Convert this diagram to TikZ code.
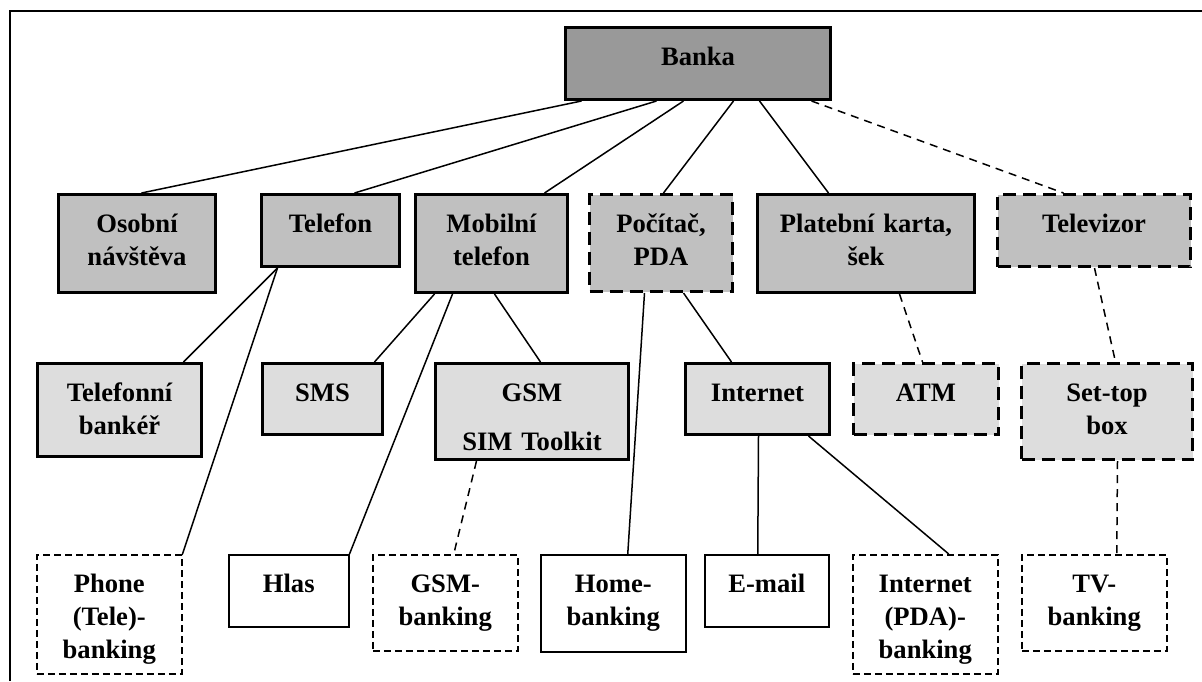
\documentclass[tikz,border=0pt]{standalone}
\usepackage{fontspec}
\setmainfont{Liberation Serif}
\definecolor{fillA}{HTML}{999999}
\definecolor{fillB}{HTML}{C0C0C0}
\definecolor{fillC}{HTML}{DDDDDD}
\begin{document}
\begin{tikzpicture}[x=1pt,y=-1pt,
  bx/.style={draw, anchor=north west, inner sep=0pt, align=center, text height=38pt,
    font=\fontsize{26.6}{33}\selectfont\bfseries},
  sz/.style 2 args={text width=#1pt, text depth=#2pt},
  thickb/.style={bx, line width=3pt},
  thinb/.style={bx, line width=1.5pt, fill=white},
  lvlzero/.style={thickb, fill=fillA},
  lvlone/.style={thickb, fill=fillB},
  lvltwo/.style={thickb, fill=fillC},
  dthick/.style={dash pattern=on 13pt off 7pt},
  dthin/.style={dash pattern=on 7pt off 4pt},
  conn/.style={line width=1.5pt},
  dconn/.style={line width=1.5pt, dash pattern=on 8pt off 6pt}]
\useasboundingbox (0,0) rectangle (1202,681);
\draw[line width=2pt] (10,681) -- (10,11) -- (1202,11);

% level 0
\node[lvlzero, sz={265}{34}] (banka) at (564,26) {Banka};
% level 1
\node[lvlone, sz={157}{60}] (osobni) at (57,193) {Osobní\\návštěva};
\node[lvlone, sz={138}{34}] (telefon) at (260,193) {Telefon};
\node[lvlone, sz={152}{60}] (mobilni) at (414,193) {Mobilní\\telefon};
\node[lvlone, dthick, sz={143}{59}] (pocitac) at (588,193) {Počítač,\\PDA};
\node[lvlone, sz={217}{60}] (platebni) at (756,193) {Platební karta,\\šek};
\node[lvlone, dthick, sz={193}{34}] (televizor) at (996,193) {Televizor};
% level 2
\node[lvltwo, sz={164}{55}] (bankerr) at (36,362) {Telefonní\\bankéř};
\node[lvltwo, sz={120}{33}] (sms) at (261,362) {SMS};
\node[lvltwo, sz={193}{58}] (gsmsim) at (434,362) {GSM\\[16pt]SIM Toolkit};
\node[lvltwo, sz={144}{33}] (internet) at (684,362) {Internet};
\node[lvltwo, dthick, sz={145}{33}] (atm) at (852,362) {ATM};
\node[lvltwo, dthick, sz={171}{58}] (settop) at (1020,362) {Set-top\\box};
% level 3
\node[thinb, dthin, sz={145}{81}] (phone) at (36,554) {Phone\\(Tele)-\\banking};
\node[thinb, sz={120}{34}] (hlas) at (228,554) {Hlas};
\node[thinb, dthin, sz={145}{58}] (gsmbank) at (372,554) {GSM-\\banking};
\node[thinb, sz={145}{59}] (homebank) at (540,554) {Home-\\banking};
\node[thinb, sz={124}{34}] (email) at (704,554) {E-mail};
\node[thinb, dthin, sz={145}{81}] (inetbank) at (852,554) {Internet\\(PDA)-\\banking};
\node[thinb, dthin, sz={145}{58}] (tvbank) at (1021,554) {TV-\\banking};

% connectors from Banka
\draw[conn] ([xshift=-116.5pt]banka.south) -- ([xshift=4.5pt]osobni.north);
\draw[conn] ([xshift=-41.5pt]banka.south) -- ([xshift=24pt]telefon.north);
\draw[conn] ([xshift=-14.5pt]banka.south) -- ([xshift=53pt]mobilni.north);
\draw[conn] ([xshift=35.5pt]banka.south) -- ([xshift=2.5pt]pocitac.north);
\draw[conn] ([xshift=61.5pt]banka.south) -- ([xshift=-37.5pt]platebni.north);
\draw[dconn] ([xshift=113.5pt]banka.south) -- ([xshift=-30.5pt]televizor.north);
% Telefon
\draw[conn] ([xshift=-53pt]telefon.south) -- ([xshift=64pt]bankerr.north);
\draw[conn] ([xshift=-53pt]telefon.south) -- (phone.north east);
% Mobilni
\draw[conn] ([xshift=-57pt]mobilni.south) -- ([xshift=52pt]sms.north);
\draw[conn] ([xshift=-39pt]mobilni.south) -- (hlas.north east);
\draw[conn] ([xshift=3pt]mobilni.south) -- ([xshift=8.5pt]gsmsim.north);
\draw[dconn] ([xshift=-55.5pt]gsmsim.south) -- ([xshift=8.5pt]gsmbank.north);
% Pocitac
\draw[conn] ([xshift=-16.5pt]pocitac.south) -- ([xshift=14.5pt]homebank.north);
\draw[conn] ([xshift=22.5pt]pocitac.south) -- ([xshift=-26pt]internet.north);
\draw[conn] ([xshift=1pt]internet.south) -- ([xshift=-9pt]email.north);
\draw[conn] ([xshift=51pt]internet.south) -- ([xshift=23.5pt]inetbank.north);
% Platebni, Televizor
\draw[dconn] ([xshift=33.5pt]platebni.south) -- ([xshift=-3.5pt]atm.north);
\draw[dconn] ([xshift=0.5pt]televizor.south) -- ([xshift=8.5pt]settop.north);
\draw[dconn] ([xshift=10.5pt]settop.south) -- ([xshift=22.5pt]tvbank.north);
\end{tikzpicture}
\end{document}
